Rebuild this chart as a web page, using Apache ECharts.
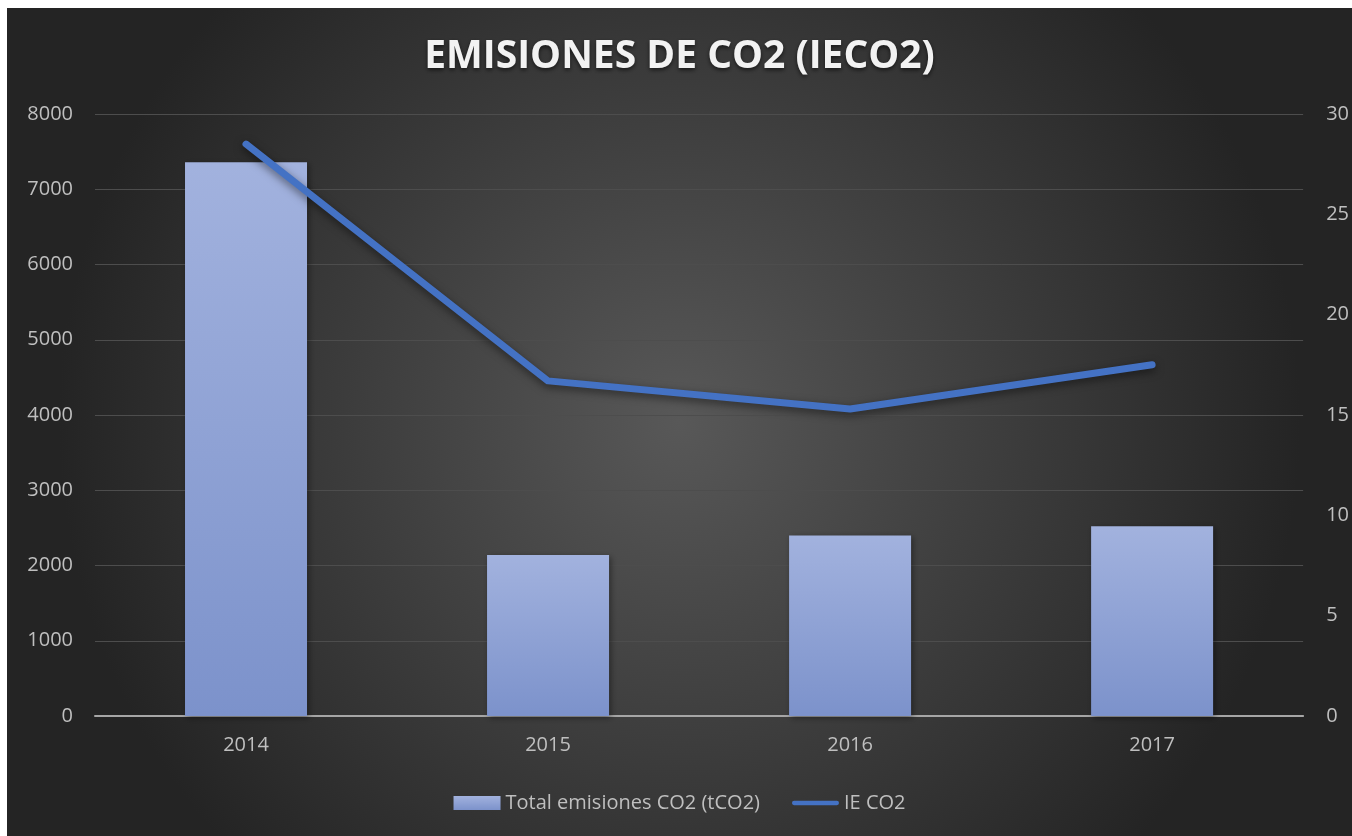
<!DOCTYPE html>
<html>
<head>
<meta charset="utf-8">
<script src="https://cdn.jsdelivr.net/npm/echarts@6/dist/echarts.min.js"></script>
<style>
  html, body { margin: 0; padding: 0; background: #fff; }
  #chart { position: absolute; left: 7px; top: 8px; width: 1345px; height: 828px; }
</style>
</head>
<body>
<div id="chart"></div>
<script>
// data
var years = ["2014", "2015", "2016", "2017"];
var totalEmisiones = [7360, 2140, 2400, 2520]; // tCO2, left axis
var ieCO2 = [28.5, 16.7, 15.3, 17.5];          // right axis
var leftTicks = { min: 0, max: 8000, interval: 1000 };
var rightTicks = { min: 0, max: 30, interval: 5 };

var labelColor = "#bfbfbf";
var fontFam = "'Open Sans', sans-serif";

var myChart = echarts.init(document.getElementById("chart"));
var option = {
  animation: false,
  backgroundColor: {
    type: "radial", x: 0.5, y: 0.5, r: 0.75,
    colorStops: [
      { offset: 0, color: "#585858" },
      { offset: 1, color: "#242424" }
    ]
  },
  title: {
    text: "EMISIONES DE CO2 (IECO2)",
    left: "center",
    top: 24,
    textStyle: {
      color: "#f2f2f2",
      fontSize: 39,
      fontWeight: "bold",
      fontFamily: fontFam,
      textShadowColor: "rgba(0,0,0,0.6)",
      textShadowBlur: 4,
      textShadowOffsetY: 2
    }
  },
  legend: {
    bottom: 18,
    left: "center",
    itemGap: 32,
    itemWidth: 47,
    itemHeight: 14,
    textStyle: { color: labelColor, fontSize: 20, fontFamily: fontFam },
    data: [
      { name: "Total emisiones CO2 (tCO2)", icon: "rect" },
      {
        name: "IE CO2",
        icon: "path://M2.5,0 h50 a2.5,2.5 0 0 1 0,5 h-50 a2.5,2.5 0 0 1 0,-5 z",
        itemStyle: { color: "#4472c4" }
      }
    ]
  },
  grid: { left: 88, right: 47, top: 106, bottom: 120 },
  xAxis: {
    type: "category",
    data: years,
    axisLine: { lineStyle: { color: "#a6a6a6", width: 2 } },
    axisTick: { show: false },
    axisLabel: { color: labelColor, fontSize: 20, fontFamily: fontFam, margin: 19 }
  },
  yAxis: [
    {
      type: "value",
      min: leftTicks.min, max: leftTicks.max, interval: leftTicks.interval,
      axisLine: { show: false },
      axisTick: { show: false },
      splitLine: { lineStyle: { color: "#4d4d4d", width: 1 } },
      axisLabel: { color: labelColor, fontSize: 20, fontFamily: fontFam, margin: 22, formatter: function (v) { return String(v); } }
    },
    {
      type: "value",
      min: rightTicks.min, max: rightTicks.max, interval: rightTicks.interval,
      axisLine: { show: false },
      axisTick: { show: false },
      splitLine: { show: false },
      axisLabel: { color: labelColor, fontSize: 20, fontFamily: fontFam, margin: 23 }
    }
  ],
  series: [
    {
      name: "Total emisiones CO2 (tCO2)",
      type: "bar",
      barWidth: 122,
      data: totalEmisiones,
      itemStyle: {
        color: {
          type: "linear", x: 0, y: 0, x2: 0, y2: 1,
          colorStops: [
            { offset: 0, color: "#a2b2de" },
            { offset: 1, color: "#7c92cb" }
          ]
        },
        shadowColor: "rgba(0,0,0,0.4)",
        shadowBlur: 6,
        shadowOffsetX: 2,
        shadowOffsetY: 2
      }
    },
    {
      name: "IE CO2",
      type: "line",
      yAxisIndex: 1,
      data: ieCO2,
      symbol: "none",
      itemStyle: { color: "#4472c4" },
      lineStyle: {
        color: "#4472c4",
        width: 7,
        cap: "round",
        join: "round",
        shadowColor: "rgba(0,0,0,0.5)",
        shadowBlur: 8,
        shadowOffsetY: 3
      }
    }
  ]
};
myChart.setOption(option);
</script>
</body>
</html>
